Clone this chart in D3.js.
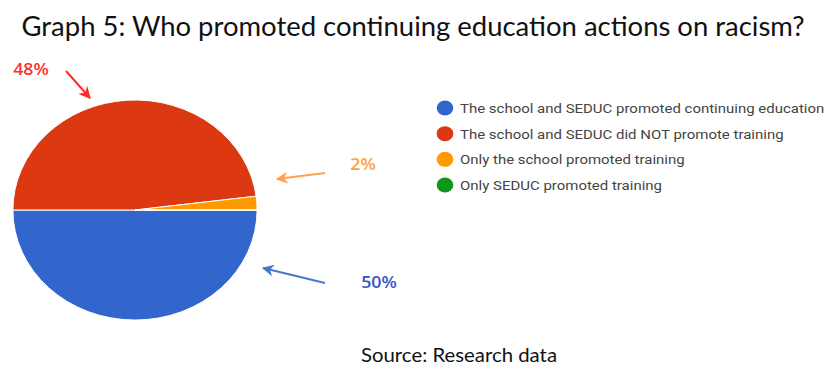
<!DOCTYPE html>
<html>
<head>
<meta charset="utf-8">
<script src="https://cdn.jsdelivr.net/npm/d3@7"></script>
<style>
  html, body { margin: 0; padding: 0; background: #fff; }
  svg { display: block; }
</style>
</head>
<body>
<svg id="chart" width="824" height="367"></svg>
<script>
// Survey answers and their shares (percent)
const categories = [
  "The school and SEDUC promoted continuing education",
  "The school and SEDUC did NOT promote training",
  "Only the school promoted training",
  "Only SEDUC promoted training"
];
const shares = [50, 48, 2, 0];
const shareLabels = ["50%", "48%", "2%"];
const colors = ["#3366cc", "#dc3912", "#ff9900", "#109618"];

const svg = d3.select("#chart");

// Title and source
svg.append("text")
  .attr("x", 413).attr("y", 36)
  .attr("text-anchor", "middle")
  .attr("font-family", "Lato, 'Open Sans', sans-serif")
  .attr("font-size", 26)
  .attr("fill", "#111")
  .attr("textLength", 783)
  .attr("lengthAdjust", "spacingAndGlyphs")
  .text("Graph 5: Who promoted continuing education actions on racism?");

svg.append("text")
  .attr("x", 459).attr("y", 362)
  .attr("text-anchor", "middle")
  .attr("font-family", "Lato, 'Open Sans', sans-serif")
  .attr("font-size", 20)
  .attr("fill", "#111")
  .attr("textLength", 196)
  .attr("lengthAdjust", "spacingAndGlyphs")
  .text("Source: Research data");

// Chart body is drawn slightly widened horizontally
const sx = 1.11;
const body = svg.append("g").attr("transform", `scale(${sx},1)`);

const cx = 135 / sx, cy = 210, r = 110;

const pie = d3.pie().sort(null).value(d => d)
  .startAngle(Math.PI / 2).endAngle(Math.PI / 2 + 2 * Math.PI);
const arc = d3.arc().innerRadius(0).outerRadius(r);

body.append("g")
  .attr("transform", `translate(${cx},${cy})`)
  .selectAll("path")
  .data(pie(shares))
  .join("path")
  .attr("d", arc)
  .attr("fill", (d, i) => colors[i])
  .attr("stroke", "#fff")
  .attr("stroke-width", 1)
  .attr("vector-effect", "non-scaling-stroke");

// Legend
const legendY = d3.scalePoint().domain(d3.range(categories.length)).range([108, 185]);
const lg = body.append("g").selectAll("g").data(categories).join("g")
  .attr("transform", (d, i) => `translate(0,${legendY(i)})`);
lg.append("circle")
  .attr("cx", 445 / sx).attr("cy", 0).attr("r", 7.5)
  .attr("fill", (d, i) => colors[i]);
lg.append("text")
  .attr("x", 460 / sx).attr("y", 5)
  .attr("font-family", "Roboto, sans-serif")
  .attr("font-size", 13.5)
  .attr("fill", "#444")
  .text(d => d);

// Value callouts with arrows
const defs = svg.append("defs");
const callouts = [
  { idx: 1, text: shareLabels[1], color: "#ff3030", arrow: "#ff2a2a", lx: 31, ly: 75, x1: 66, y1: 71, x2: 90, y2: 98 },
  { idx: 2, text: shareLabels[2], color: "#ff9d45", arrow: "#ffa050", lx: 363, ly: 170, x1: 325, y1: 173, x2: 277, y2: 179 },
  { idx: 0, text: shareLabels[0], color: "#3355cc", arrow: "#4a78c8", lx: 379, ly: 288, x1: 325, y1: 283, x2: 263, y2: 268 }
];

callouts.forEach(c => {
  const id = "head" + c.idx;
  defs.append("marker")
    .attr("id", id)
    .attr("viewBox", "0 0 10 10")
    .attr("refX", 9).attr("refY", 5)
    .attr("markerWidth", 6).attr("markerHeight", 6)
    .attr("markerUnits", "strokeWidth")
    .attr("orient", "auto")
    .append("path")
    .attr("d", "M0,0 L10,5 L0,10 L3,5 Z")
    .attr("fill", c.arrow);
  svg.append("line")
    .attr("x1", c.x1).attr("y1", c.y1)
    .attr("x2", c.x2).attr("y2", c.y2)
    .attr("stroke", c.arrow).attr("stroke-width", 2)
    .attr("marker-end", `url(#${id})`);
  svg.append("text")
    .attr("transform", `translate(${c.lx},${c.ly}) scale(${sx},1)`)
    .attr("text-anchor", "middle")
    .attr("font-family", "'Open Sans', sans-serif")
    .attr("font-weight", 600)
    .attr("font-size", 16)
    .attr("fill", c.color)
    .text(c.text);
});
</script>
</body>
</html>
